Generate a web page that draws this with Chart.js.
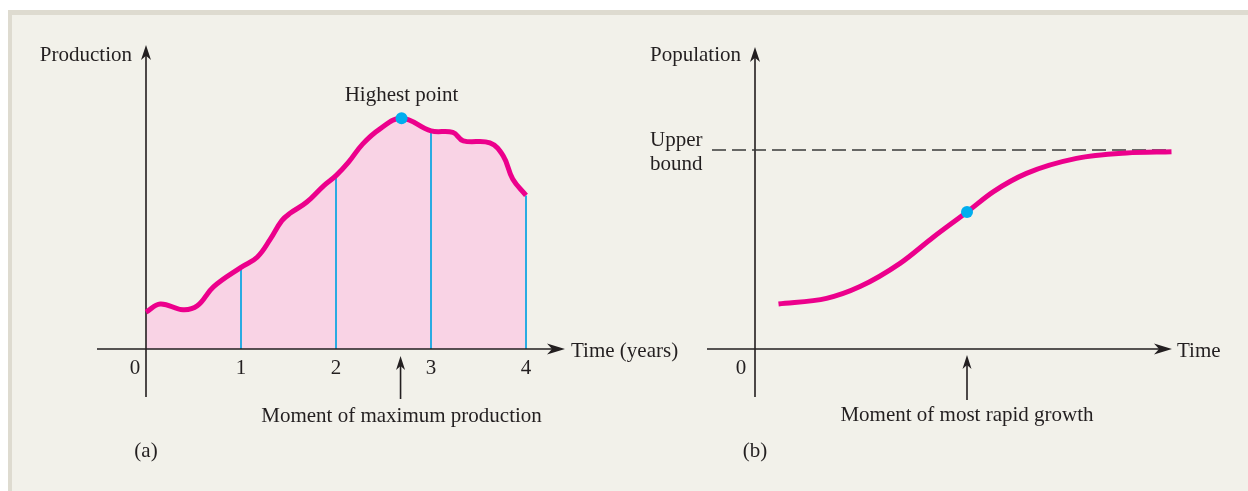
<!DOCTYPE html>
<html>
<head>
<meta charset="utf-8">
<script src="https://cdn.jsdelivr.net/npm/chart.js@4/dist/chart.umd.min.js"></script>
<style>
html, body { margin: 0; padding: 0; background: #fff; width: 1248px; height: 491px; overflow: hidden; }
#panel { position: absolute; left: 8px; top: 10px; right: 0; bottom: 0; background: #f2f1ea;
  border-top: 5px solid #dedbd0; border-left: 4px solid #dedbd0; }
canvas { position: absolute; top: 0; }
#left { left: 0; }
#right { left: 624px; }
</style>
</head>
<body>
<div id="panel"></div>
<canvas id="left" width="700" height="491"></canvas>
<canvas id="right" width="624" height="491"></canvas>
<script>
// (a) production over time, years
const prodYears  = [0, 0.15, 0.39, 0.54, 0.71, 1, 1.17, 1.31, 1.43, 1.52, 1.69, 1.87, 2, 2.13, 2.28, 2.46, 2.69, 3, 3.23, 3.34, 3.62, 3.76, 3.86, 4];
const prodValues = [1.23, 1.5, 1.31, 1.44, 2.07, 2.72, 3.06, 3.67, 4.28, 4.53, 4.89, 5.44, 5.78, 6.22, 6.83, 7.33, 7.69, 7.27, 7.22, 6.94, 6.87, 6.44, 5.67, 5.12];
const yearTicks  = [0, 1, 2, 3, 4];

// (b) population, logistic shape
const popTime   = [0.47, 1.43, 2.1, 2.9, 3.57, 4.24, 4.77, 5.43, 6.43, 7.43, 8.33];
const popValues = [2.25, 2.53, 3.12, 4.28, 5.6, 6.85, 7.87, 8.78, 9.53, 9.8, 9.86];
const growthIndex = 5;        // most rapid growth
const upperBound = 9.95;
const boundFrom = -0.86, boundTo = 8.34;

const INK = '#231f20';
const PINK = '#ec008c';
const BLUE = '#00aeef';
const FONT = '21px "Liberation Serif", "Times New Roman", serif';

let peakIdx = 0;
prodValues.forEach((v, i) => { if (v > prodValues[peakIdx]) peakIdx = i; });

function arrowHead(ctx, x, y, dx, dy, len, half) {
  // dx,dy = direction the arrow points
  const px = -dy, py = dx;
  ctx.beginPath();
  ctx.moveTo(x, y);
  ctx.lineTo(x - dx * len + px * half, y - dy * len + py * half);
  ctx.lineTo(x - dx * len * 0.72, y - dy * len * 0.72);
  ctx.lineTo(x - dx * len - px * half, y - dy * len - py * half);
  ctx.closePath();
  ctx.fill();
}

function axes(ctx, x0, y0, c) {
  ctx.save();
  ctx.strokeStyle = INK;
  ctx.fillStyle = INK;
  ctx.lineWidth = 1.6;
  ctx.beginPath();
  ctx.moveTo(x0, y0 + c.below);
  ctx.lineTo(x0, y0 - c.up + 8);
  ctx.moveTo(x0 - c.left, y0);
  ctx.lineTo(x0 + c.right - 10, y0);
  ctx.stroke();
  arrowHead(ctx, x0, y0 - c.up, 0, -1, 15, 5);
  arrowHead(ctx, x0 + c.right, y0, 1, 0, 18, 5.5);
  ctx.restore();
}

function upArrow(ctx, x, yTop, yBot) {
  ctx.save();
  ctx.strokeStyle = INK;
  ctx.fillStyle = INK;
  ctx.lineWidth = 1.6;
  ctx.beginPath();
  ctx.moveTo(x, yBot);
  ctx.lineTo(x, yTop + 8);
  ctx.stroke();
  arrowHead(ctx, x, yTop, 0, -1, 14, 4.5);
  ctx.restore();
}

function text(ctx, s, x, y, align) {
  ctx.save();
  ctx.font = FONT;
  ctx.fillStyle = INK;
  ctx.textAlign = align || 'left';
  ctx.textBaseline = 'alphabetic';
  ctx.fillText(s, x, y);
  ctx.restore();
}

const leftDecor = {
  id: 'leftDecor',
  beforeDatasetsDraw(chart) {
    const ctx = chart.ctx, xs = chart.scales.x, ys = chart.scales.y;
    const x0 = xs.getPixelForValue(0), y0 = ys.getPixelForValue(0);
    const meta = chart.getDatasetMeta(1);
    ctx.save();
    ctx.strokeStyle = '#29abe2';
    ctx.lineWidth = 2;
    yearTicks.slice(1).forEach(t => {
      const i = prodYears.indexOf(t);
      const el = meta.data[i];
      ctx.beginPath();
      ctx.moveTo(el.x, y0);
      ctx.lineTo(el.x, el.y);
      ctx.stroke();
    });
    ctx.restore();
    axes(ctx, x0, y0, { below: 48, up: 304, left: 49, right: 419 });
  },
  afterDraw(chart) {
    const ctx = chart.ctx, xs = chart.scales.x, ys = chart.scales.y;
    const x0 = xs.getPixelForValue(0), y0 = ys.getPixelForValue(0);
    const px = xs.getPixelForValue(prodYears[peakIdx]);
    const py = ys.getPixelForValue(prodValues[peakIdx]);
    text(ctx, 'Production', x0 - 14, 61, 'right');
    text(ctx, 'Highest point', px, py - 17, 'center');
    yearTicks.forEach(t => {
      const x = t === 0 ? x0 - 11 : xs.getPixelForValue(t);
      text(ctx, String(t), x, y0 + 25, 'center');
    });
    text(ctx, 'Time (years)', x0 + 425, y0 + 8, 'left');
    upArrow(ctx, px - 1, y0 + 7, y0 + 50);
    text(ctx, 'Moment of maximum production', px, y0 + 73, 'center');
    text(ctx, '(a)', x0, y0 + 108, 'center');
  }
};

const rightDecor = {
  id: 'rightDecor',
  beforeDatasetsDraw(chart) {
    const xs = chart.scales.x, ys = chart.scales.y;
    axes(chart.ctx, xs.getPixelForValue(0), ys.getPixelForValue(0), { below: 48, up: 302, left: 48, right: 417 });
  },
  afterDraw(chart) {
    const ctx = chart.ctx, xs = chart.scales.x, ys = chart.scales.y;
    const x0 = xs.getPixelForValue(0), y0 = ys.getPixelForValue(0);
    const gx = xs.getPixelForValue(popTime[growthIndex]);
    const by = ys.getPixelForValue(upperBound);
    text(ctx, 'Population', x0 - 14, 61, 'right');
    text(ctx, 'Upper', x0 - 105, by - 4, 'left');
    text(ctx, 'bound', x0 - 105, by + 20, 'left');
    text(ctx, '0', x0 - 14, y0 + 25, 'center');
    text(ctx, 'Time', x0 + 422, y0 + 8, 'left');
    upArrow(ctx, gx, y0 + 6, y0 + 51);
    text(ctx, 'Moment of most rapid growth', gx, y0 + 72, 'center');
    text(ctx, '(b)', x0, y0 + 108, 'center');
  }
};

function baseOptions(xmin, xmax, ymin, ymax) {
  return {
    responsive: false,
    animation: false,
    layout: { padding: 0, autoPadding: false },
    scales: {
      x: { type: 'linear', display: false, min: xmin, max: xmax },
      y: { type: 'linear', display: false, min: ymin, max: ymax }
    },
    plugins: {
      legend: { display: false },
      tooltip: { enabled: false },
      filler: { drawTime: 'beforeDatasetsDraw' }
    }
  };
}

// left: 0 yr at x=146, 95 px per year; 0 at y=349, 30 px per unit
new Chart(document.getElementById('left'), {
  type: 'line',
  data: {
    datasets: [
      {
        data: [{ x: prodYears[peakIdx], y: prodValues[peakIdx] }],
        showLine: false, pointRadius: 6, pointBackgroundColor: BLUE, pointBorderWidth: 0
      },
      {
        data: prodYears.map((x, i) => ({ x: x, y: prodValues[i] })),
        borderColor: PINK, borderWidth: 5, backgroundColor: '#f9d3e5',
        fill: 'origin', pointRadius: 0, tension: 0.4
      }
    ]
  },
  options: baseOptions(-146 / 95, 554 / 95, -142 / 30, 349 / 30),
  plugins: [leftDecor]
});

// right: 0 at x=755 (131 in canvas), 50 px per unit; 0 at y=349, 20 px per unit
new Chart(document.getElementById('right'), {
  type: 'line',
  data: {
    datasets: [
      {
        data: [{ x: popTime[growthIndex], y: popValues[growthIndex] }],
        showLine: false, pointRadius: 6, pointBackgroundColor: BLUE, pointBorderWidth: 0
      },
      {
        data: popTime.map((x, i) => ({ x: x, y: popValues[i] })),
        borderColor: PINK, borderWidth: 5, fill: false, pointRadius: 0,
        cubicInterpolationMode: 'monotone'
      },
      {
        data: [{ x: boundFrom, y: upperBound }, { x: boundTo, y: upperBound }],
        borderColor: '#3a3a3a', borderWidth: 1.6, borderDash: [14, 6], pointRadius: 0, fill: false
      }
    ]
  },
  options: baseOptions(-131 / 50, 493 / 50, -142 / 20, 349 / 20),
  plugins: [rightDecor]
});
</script>
</body>
</html>
